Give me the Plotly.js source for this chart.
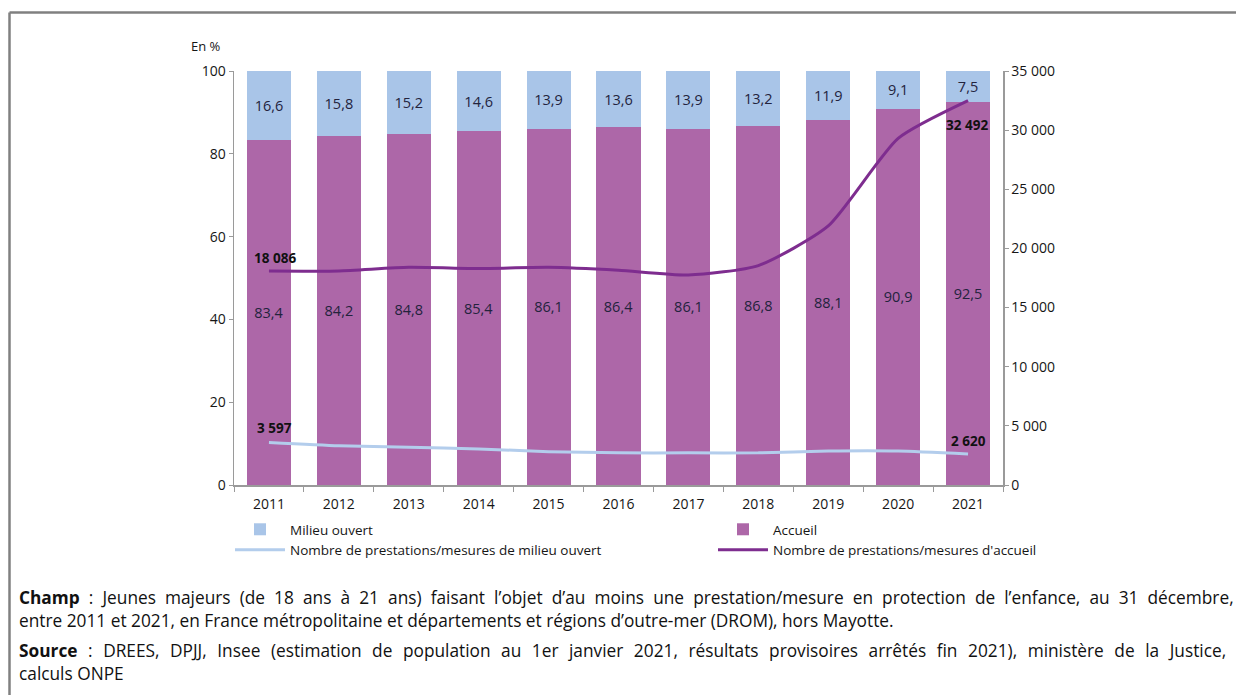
<!DOCTYPE html>
<html>
<head>
<meta charset="utf-8">
<script src="https://cdn.plot.ly/plotly-3.0.1.min.js"></script>
<style>
html,body{margin:0;padding:0;background:#fff;}
#chart{width:1236px;height:695px;}
</style>
</head>
<body>
<div id="chart"></div>
<script>
const years = ['2011','2012','2013','2014','2015','2016','2017','2018','2019','2020','2021'];
const milieuOuvertPct = [16.6, 15.8, 15.2, 14.6, 13.9, 13.6, 13.9, 13.2, 11.9, 9.1, 7.5];
const accueilPct = [83.4, 84.2, 84.8, 85.4, 86.1, 86.4, 86.1, 86.8, 88.1, 90.9, 92.5];
const nbAccueil = [18086, 18100, 18400, 18300, 18400, 18150, 17750, 18550, 21900, 29300, 32492];
const nbMilieuOuvert = [3597, 3320, 3200, 3050, 2820, 2720, 2720, 2720, 2870, 2870, 2620];
const leftTicks = [0, 20, 40, 60, 80, 100];
const rightTicks = [0, 5000, 10000, 15000, 20000, 25000, 30000, 35000];
const rightTickText = ['0', '5 000', '10 000', '15 000', '20 000', '25 000', '30 000', '35 000'];

const fmtPct = v => v.toFixed(1).replace('.', ',');
const fmtNum = v => String(v).replace(/\B(?=(\d{3})+(?!\d))/g, ' ');

const FONT = 'Open Sans, Liberation Sans, sans-serif';
const LABEL_COLOR = '#23233d';
const TICK_COLOR = '#161616';

const traces = [
  {
    type: 'bar', name: 'Accueil', x: years, y: accueilPct,
    marker: {color: '#AD67A8'}, legendrank: 2,
    text: accueilPct.map(fmtPct), textposition: 'inside', insidetextanchor: 'middle',
    textangle: 0, constraintext: 'none',
    textfont: {family: FONT, size: 14.5, color: LABEL_COLOR}, hoverinfo: 'skip'
  },
  {
    type: 'bar', name: 'Milieu ouvert', x: years, y: milieuOuvertPct,
    marker: {color: '#A9C5E8'}, legendrank: 1,
    text: milieuOuvertPct.map(fmtPct), textposition: 'inside', insidetextanchor: 'middle',
    textangle: 0, constraintext: 'none',
    textfont: {family: FONT, size: 14.5, color: LABEL_COLOR}, hoverinfo: 'skip'
  },
  {
    type: 'scatter', mode: 'lines', name: 'Nombre de prestations/mesures de milieu ouvert',
    x: years, y: nbMilieuOuvert, yaxis: 'y2', legendrank: 3,
    line: {color: '#B3CDEC', width: 3, shape: 'spline', smoothing: 0.6}, hoverinfo: 'skip'
  },
  {
    type: 'scatter', mode: 'lines', name: "Nombre de prestations/mesures d'accueil",
    x: years, y: nbAccueil, yaxis: 'y2', legendrank: 4,
    line: {color: '#7E2D8F', width: 3, shape: 'spline', smoothing: 0.6}, hoverinfo: 'skip'
  }
];

// pixel -> paper helpers (plot area: x 234..1003, y 71..485)
const L = 234, R = 1003, T = 71, B = 485;
const px = x => (x - L) / (R - L);
const py = y => (B - y) / (B - T);

const last = years.length - 1;
const valueLabel = (series, i, xs, ys) => ({
  text: fmtNum(series[i]), xref: 'x', yref: 'y2', x: i, y: series[i],
  xshift: xs, yshift: ys, showarrow: false, xanchor: 'center', yanchor: 'middle',
  font: {family: FONT, size: 13.5, color: '#111', weight: 'bold'}
});

const NOTE_FONT = {family: FONT, size: 17.3, color: '#111'};
const line1 = "<b>Champ</b> : Jeunes majeurs (de 18 ans à 21 ans) faisant l’objet d’au moins une prestation/mesure en protection de l’enfance, au 31 décembre,".split(' ').join(' \u2009\u200A');
const line3 = "<b>Source</b> : DREES, DPJJ, Insee (estimation de population au 1er janvier 2021, résultats provisoires arrêtés fin 2021), ministère de la Justice,".split(' ').join(' \u2005\u200A');

const layout = {
  width: 1236, height: 695,
  margin: {l: L, r: 1236 - R, t: T, b: 695 - B},
  paper_bgcolor: '#fff', plot_bgcolor: '#fff',
  font: {family: FONT, size: 13, color: TICK_COLOR},
  barmode: 'stack', bargap: 0.37,
  showlegend: true,
  legend: {
    orientation: 'h', x: px(230), xanchor: 'left', y: py(514), yanchor: 'top',
    entrywidth: 418, entrywidthmode: 'pixels', traceorder: 'normal',
    font: {family: FONT, size: 13.5, color: TICK_COLOR}, itemwidth: 50
  },
  xaxis: {
    type: 'category', tickson: 'boundaries', ticks: 'outside', ticklen: 5, tickcolor: '#9a9a9a',
    showline: true, linecolor: '#9a9a9a', linewidth: 1.5, showgrid: false, zeroline: false,
    ticklabelstandoff: 6, range: [-0.5, 10.5],
    tickfont: {family: FONT, size: 14, color: TICK_COLOR}, fixedrange: true
  },
  yaxis: {
    range: [0, 100], tickvals: leftTicks, ticks: 'outside', ticklen: 4, tickcolor: '#9a9a9a',
    showline: true, linecolor: '#9a9a9a', linewidth: 1.5, showgrid: false, zeroline: false,
    tickfont: {family: FONT, size: 14, color: TICK_COLOR}, fixedrange: true
  },
  yaxis2: {
    overlaying: 'y', side: 'right', range: [0, 35000],
    tickvals: rightTicks, ticktext: rightTickText, ticks: 'outside', ticklen: 4, tickcolor: '#9a9a9a',
    showline: true, linecolor: '#9a9a9a', linewidth: 1.5, showgrid: false, zeroline: false,
    tickfont: {family: FONT, size: 14, color: TICK_COLOR}, fixedrange: true
  },
  shapes: [
    {type: 'line', xref: 'paper', yref: 'paper', x0: px(9.5), x1: px(1236), y0: py(12.5), y1: py(12.5),
     line: {color: '#808080', width: 2.5}},
    {type: 'line', xref: 'paper', yref: 'paper', x0: px(9.5), x1: px(9.5), y0: py(12.5), y1: py(695),
     line: {color: '#808080', width: 2.5}}
  ],
  annotations: [
    {text: 'En %', xref: 'paper', yref: 'paper', x: px(206), y: py(46), xanchor: 'center', yanchor: 'middle',
     showarrow: false, font: {family: FONT, size: 13, color: TICK_COLOR}},
    valueLabel(nbAccueil, 0, 6, 13),
    valueLabel(nbAccueil, last, -1, -24),
    valueLabel(nbMilieuOuvert, 0, 6, 14),
    valueLabel(nbMilieuOuvert, last, 0, 13),
    {text: line1, xref: 'paper', yref: 'paper', x: px(17), y: py(597), xanchor: 'left', yanchor: 'middle',
     showarrow: false, font: NOTE_FONT},
    {text: "entre 2011 et 2021, en France métropolitaine et départements et régions d’outre-mer (DROM), hors Mayotte.",
     xref: 'paper', yref: 'paper', x: px(17), y: py(620), xanchor: 'left', yanchor: 'middle',
     showarrow: false, font: NOTE_FONT},
    {text: line3, xref: 'paper', yref: 'paper', x: px(17), y: py(650), xanchor: 'left', yanchor: 'middle',
     showarrow: false, font: NOTE_FONT},
    {text: "calculs ONPE",
     xref: 'paper', yref: 'paper', x: px(17), y: py(673), xanchor: 'left', yanchor: 'middle',
     showarrow: false, font: NOTE_FONT}
  ]
};

Plotly.newPlot('chart', traces, layout, {displayModeBar: false, staticPlot: true});
</script>
</body>
</html>
